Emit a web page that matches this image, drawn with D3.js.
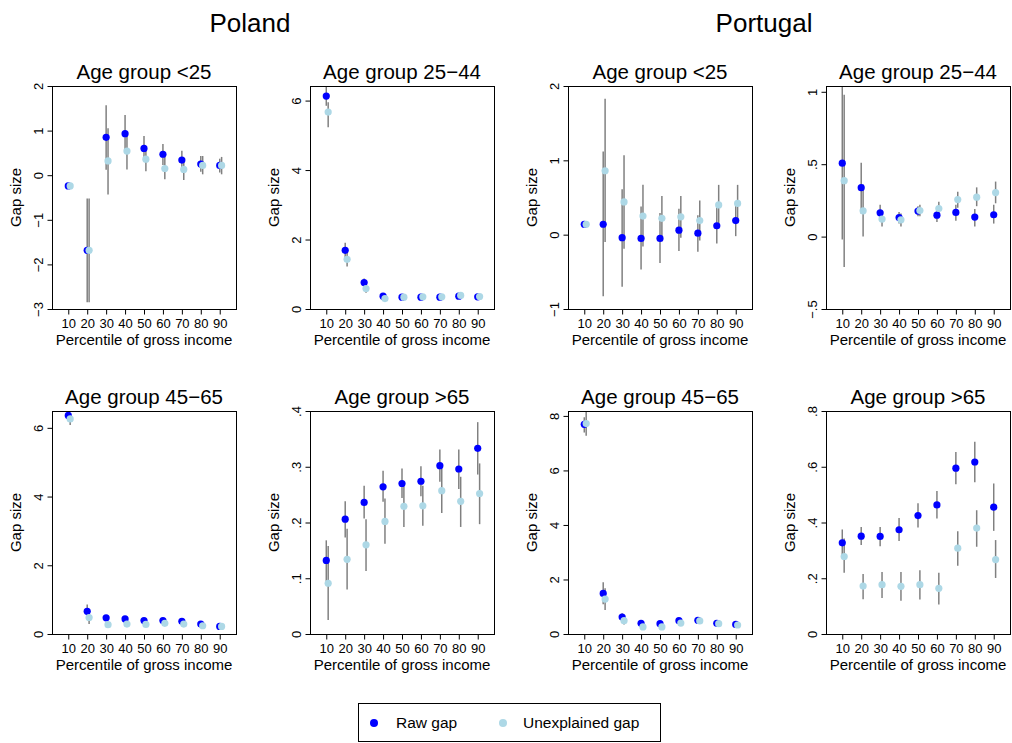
<!DOCTYPE html>
<html>
<head>
<meta charset="utf-8">
<script src="https://cdn.jsdelivr.net/npm/d3@7"></script>
<style>
  body { margin: 0; background: #fff; }
  text { font-family: "Liberation Sans", Arial, Helvetica, sans-serif; fill: #000; }
</style>
</head>
<body>
<div id="chart"></div>
<script>
// percentiles of gross income (unexplained gap is drawn one unit to the right)
const percentiles = [10, 20, 30, 40, 50, 60, 70, 80, 90]

// Poland, age < 25
const plU25Raw = [-0.24, -1.685, 0.85, 0.93, 0.6, 0.47, 0.34, 0.25, 0.22]
const plU25RawCI = [[-0.27, -0.21], [-2.85, -0.52], [0.12, 1.57], [0.53, 1.35], [0.34, 0.88], [0.23, 0.7], [0.13, 0.55], [0.08, 0.43], [0.06, 0.37]]
const plU25Unexp = [-0.24, -1.685, 0.32, 0.54, 0.36, 0.15, 0.13, 0.22, 0.22]
const plU25UnexpCI = [[-0.27, -0.21], [-2.85, -0.52], [-0.43, 1.05], [0.13, 0.95], [0.09, 0.62], [-0.09, 0.41], [-0.11, 0.34], [0.02, 0.43], [0.02, 0.41]]

// Poland, age 25-44
const pl2544Raw = [6.13, 1.69, 0.76, 0.37, 0.34, 0.34, 0.34, 0.37, 0.35]
const pl2544RawCI = [[5.85, 6.42], [1.45, 1.91], [0.64, 0.88], [0.3, 0.45], [0.3, 0.38], [0.3, 0.38], [0.3, 0.38], [0.33, 0.41], [0.31, 0.39]]
const pl2544Unexp = [5.67, 1.43, 0.59, 0.3, 0.34, 0.35, 0.35, 0.39, 0.36]
const pl2544UnexpCI = [[5.23, 5.95], [1.22, 1.65], [0.47, 0.72], [0.22, 0.37], [0.29, 0.39], [0.3, 0.4], [0.3, 0.4], [0.34, 0.44], [0.31, 0.41]]

// Portugal, age < 25
const ptU25Raw = [0.14, 0.14, -0.04, -0.05, -0.05, 0.06, 0.02, 0.12, 0.19]
const ptU25RawCI = [[0.12, 0.16], [-0.83, 1.12], [-0.7, 0.61], [-0.47, 0.38], [-0.38, 0.29], [-0.22, 0.35], [-0.23, 0.26], [-0.12, 0.38], [-0.02, 0.41]]
const ptU25Unexp = [0.14, 0.86, 0.44, 0.25, 0.22, 0.24, 0.19, 0.4, 0.42]
const ptU25UnexpCI = [[0.12, 0.16], [-0.1, 1.83], [-0.19, 1.07], [-0.16, 0.67], [-0.09, 0.52], [-0.04, 0.52], [-0.08, 0.46], [0.13, 0.67], [0.17, 0.67]]

// Portugal, age 25-44
const pt2544Raw = [0.507, 0.338, 0.164, 0.132, 0.176, 0.148, 0.167, 0.135, 0.151]
const pt2544RawCI = [[-0.02, 1.04], [0.16, 0.51], [0.11, 0.22], [0.09, 0.17], [0.14, 0.21], [0.1, 0.19], [0.11, 0.22], [0.07, 0.19], [0.09, 0.22]]
const pt2544Unexp = [0.386, 0.178, 0.121, 0.116, 0.18, 0.194, 0.256, 0.272, 0.304]
const pt2544UnexpCI = [[-0.21, 0.98], [0, 0.36], [0.07, 0.17], [0.07, 0.16], [0.14, 0.22], [0.15, 0.24], [0.2, 0.31], [0.21, 0.34], [0.23, 0.38]]

// Poland, age 45-65
const pl4565Raw = [6.36, 0.66, 0.47, 0.44, 0.39, 0.39, 0.37, 0.29, 0.22]
const pl4565RawCI = [[6.21, 6.49], [0.47, 0.86], [0.42, 0.52], [0.39, 0.49], [0.34, 0.44], [0.34, 0.44], [0.32, 0.42], [0.25, 0.33], [0.18, 0.26]]
const pl4565Unexp = [6.26, 0.48, 0.27, 0.29, 0.28, 0.31, 0.29, 0.24, 0.22]
const pl4565UnexpCI = [[6.08, 6.42], [0.29, 0.68], [0.22, 0.32], [0.24, 0.34], [0.23, 0.33], [0.26, 0.36], [0.24, 0.34], [0.2, 0.28], [0.18, 0.26]]

// Poland, age > 65
const plO65Raw = [0.132, 0.206, 0.236, 0.264, 0.27, 0.274, 0.302, 0.296, 0.333]
const plO65RawCI = [[0.094, 0.168], [0.173, 0.238], [0.207, 0.266], [0.237, 0.293], [0.244, 0.297], [0.247, 0.301], [0.273, 0.331], [0.26, 0.331], [0.286, 0.38]]
const plO65Unexp = [0.091, 0.134, 0.16, 0.202, 0.229, 0.23, 0.257, 0.238, 0.252]
const plO65UnexpCI = [[0.025, 0.158], [0.08, 0.189], [0.113, 0.206], [0.162, 0.243], [0.192, 0.265], [0.194, 0.266], [0.217, 0.297], [0.192, 0.282], [0.197, 0.306]]

// Portugal, age 45-65
const pt4565Raw = [7.69, 1.49, 0.62, 0.39, 0.38, 0.49, 0.5, 0.39, 0.35]
const pt4565RawCI = [[7.39, 7.95], [1.09, 1.9], [0.49, 0.76], [0.3, 0.48], [0.29, 0.47], [0.4, 0.58], [0.42, 0.58], [0.32, 0.46], [0.28, 0.42]]
const pt4565Unexp = [7.72, 1.28, 0.49, 0.26, 0.26, 0.4, 0.48, 0.38, 0.33]
const pt4565UnexpCI = [[7.27, 8.18], [0.88, 1.68], [0.35, 0.61], [0.16, 0.36], [0.16, 0.36], [0.31, 0.49], [0.4, 0.56], [0.31, 0.45], [0.26, 0.4]]

// Portugal, age > 65
const ptO65Raw = [0.327, 0.351, 0.35, 0.374, 0.425, 0.463, 0.595, 0.617, 0.455]
const ptO65RawCI = [[0.279, 0.375], [0.319, 0.384], [0.315, 0.384], [0.334, 0.416], [0.382, 0.469], [0.414, 0.513], [0.537, 0.653], [0.544, 0.69], [0.37, 0.54]]
const ptO65Unexp = [0.278, 0.172, 0.177, 0.171, 0.177, 0.164, 0.308, 0.38, 0.267]
const ptO65UnexpCI = [[0.22, 0.343], [0.125, 0.215], [0.129, 0.222], [0.119, 0.222], [0.124, 0.229], [0.106, 0.22], [0.245, 0.369], [0.313, 0.444], [0.201, 0.337]]

// y axis ticks per panel
const ticksU25PL = [-3, -2, -1, 0, 1, 2]
const ticks0to6 = [0, 2, 4, 6]
const ticksU25PT = [-1, 0, 1, 2]
const ticks2544PT = [-0.5, 0, 0.5, 1]
const ticksO65PL = [0, 0.1, 0.2, 0.3, 0.4]
const ticks0to8 = [0, 2, 4, 6, 8]
const ticksO65PT = [0, 0.2, 0.4, 0.6, 0.8]

const panels = [
  { title: 'Age group <25', raw: plU25Raw, rawCI: plU25RawCI, unexp: plU25Unexp, unexpCI: plU25UnexpCI, ymin: -3, ymax: 2, ticks: ticksU25PL },
  { title: 'Age group 25\u221244', raw: pl2544Raw, rawCI: pl2544RawCI, unexp: pl2544Unexp, unexpCI: pl2544UnexpCI, ymin: 0, ymax: 6.42, ticks: ticks0to6 },
  { title: 'Age group <25', raw: ptU25Raw, rawCI: ptU25RawCI, unexp: ptU25Unexp, unexpCI: ptU25UnexpCI, ymin: -1, ymax: 2, ticks: ticksU25PT },
  { title: 'Age group 25\u221244', raw: pt2544Raw, rawCI: pt2544RawCI, unexp: pt2544Unexp, unexpCI: pt2544UnexpCI, ymin: -0.5, ymax: 1.04, ticks: ticks2544PT },
  { title: 'Age group 45\u221265', raw: pl4565Raw, rawCI: pl4565RawCI, unexp: pl4565Unexp, unexpCI: pl4565UnexpCI, ymin: 0, ymax: 6.49, ticks: ticks0to6 },
  { title: 'Age group >65', raw: plO65Raw, rawCI: plO65RawCI, unexp: plO65Unexp, unexpCI: plO65UnexpCI, ymin: 0, ymax: 0.4, ticks: ticksO65PL },
  { title: 'Age group 45\u221265', raw: pt4565Raw, rawCI: pt4565RawCI, unexp: pt4565Unexp, unexpCI: pt4565UnexpCI, ymin: 0, ymax: 8.18, ticks: ticks0to8 },
  { title: 'Age group >65', raw: ptO65Raw, rawCI: ptO65RawCI, unexp: ptO65Unexp, unexpCI: ptO65UnexpCI, ymin: 0, ymax: 0.8, ticks: ticksO65PT }
]

const width = 1012
const height = 743
const boxW = 184
const boxH = 223
const rawColor = '#0000ff'
const unexpColor = '#add8e6'
const ciColor = '#808080'

const svg = d3
  .select('#chart')
  .append('svg')
  .attr('width', width)
  .attr('height', height)

// country headers
svg.append('text').attr('x', 250).attr('y', 32).attr('text-anchor', 'middle')
  .style('font-size', '26px').text('Poland')
svg.append('text').attr('x', 764).attr('y', 32).attr('text-anchor', 'middle')
  .style('font-size', '26px').text('Portugal')

// R style tick label: drop leading zero, real minus sign
const fmt = (v) => {
  if (v === 0) return '0'
  const s = String(Math.abs(v)).replace(/^0\./, '.')
  return (v < 0 ? '\u2212' : '') + s
}

panels.forEach((p, i) => {
  const col = i % 4
  const row = Math.floor(i / 4)
  const left = 52 + col * 258
  const top = 86 + row * 325

  const x = d3.scaleLinear().domain([1.4, 98.6]).range([left, left + boxW])
  const y = d3.scaleLinear().domain([p.ymin, p.ymax]).range([top + boxH, top])

  const g = svg.append('g')

  // confidence intervals
  g.selectAll('line.raw-ci')
    .data(percentiles)
    .enter()
    .append('line')
    .attr('x1', (d) => x(d))
    .attr('x2', (d) => x(d))
    .attr('y1', (d, j) => y(p.rawCI[j][0]))
    .attr('y2', (d, j) => y(p.rawCI[j][1]))
    .attr('stroke', ciColor)
    .attr('stroke-width', 1.5)

  g.selectAll('line.unexp-ci')
    .data(percentiles)
    .enter()
    .append('line')
    .attr('x1', (d) => x(d + 1))
    .attr('x2', (d) => x(d + 1))
    .attr('y1', (d, j) => y(p.unexpCI[j][0]))
    .attr('y2', (d, j) => y(p.unexpCI[j][1]))
    .attr('stroke', ciColor)
    .attr('stroke-width', 1.5)

  g.selectAll('circle.raw')
    .data(percentiles)
    .enter()
    .append('circle')
    .attr('cx', (d) => x(d))
    .attr('cy', (d, j) => y(p.raw[j]))
    .attr('r', 3.6)
    .attr('fill', rawColor)

  g.selectAll('circle.unexp')
    .data(percentiles)
    .enter()
    .append('circle')
    .attr('cx', (d) => x(d + 1))
    .attr('cy', (d, j) => y(p.unexp[j]))
    .attr('r', 3.6)
    .attr('fill', unexpColor)

  // box
  g.append('rect')
    .attr('x', left + 0.5)
    .attr('y', top + 0.5)
    .attr('width', boxW)
    .attr('height', boxH)
    .attr('fill', 'none')
    .attr('stroke', '#000')
    .attr('stroke-width', 1)

  const xAxis = d3.axisBottom(x).tickValues(percentiles).tickSize(5).tickSizeOuter(0)
  const gx = g.append('g')
    .attr('transform', 'translate(0,' + (top + boxH + 0.5) + ')')
    .call(xAxis)
  gx.select('.domain').remove()
  gx.selectAll('text').attr('y', 18).attr('dy', null)
    .style('font-size', '13px').attr('fill', '#000')

  const yAxis = d3.axisLeft(y).tickValues(p.ticks).tickFormat(fmt).tickSize(5).tickSizeOuter(0)
  const gy = g.append('g')
    .attr('transform', 'translate(' + (left + 0.5) + ',0)')
    .call(yAxis)
  gy.select('.domain').remove()
  gy.selectAll('text')
    .attr('x', 0).attr('dy', null)
    .attr('text-anchor', 'middle')
    .attr('transform', 'translate(-10,0) rotate(-90)')
    .style('font-size', '13px').attr('fill', '#000')
  g.selectAll('.tick line').attr('stroke', '#000')
  g.selectAll('.tick text').style('font-family', '"Liberation Sans", Arial, sans-serif')

  // titles
  g.append('text')
    .attr('x', left + boxW / 2)
    .attr('y', top - 7)
    .attr('text-anchor', 'middle')
    .style('font-size', '20.5px')
    .text(p.title)

  g.append('text')
    .attr('x', left + boxW / 2)
    .attr('y', top + boxH + 36)
    .attr('text-anchor', 'middle')
    .style('font-size', '15px')
    .text('Percentile of gross income')

  g.append('text')
    .attr('transform', 'translate(' + (left - 31) + ',' + (top + boxH / 2) + ') rotate(-90)')
    .attr('text-anchor', 'middle')
    .style('font-size', '15px')
    .text('Gap size')
})

// legend
const legend = svg.append('g')
legend.append('rect')
  .attr('x', 358.5).attr('y', 703.5)
  .attr('width', 302).attr('height', 38)
  .attr('fill', 'none').attr('stroke', '#000')
legend.append('circle').attr('cx', 374).attr('cy', 723).attr('r', 4).attr('fill', rawColor)
legend.append('text').attr('x', 396).attr('y', 728).style('font-size', '15.5px').text('Raw gap')
legend.append('circle').attr('cx', 503).attr('cy', 723).attr('r', 4).attr('fill', unexpColor)
legend.append('text').attr('x', 523).attr('y', 728).style('font-size', '15.5px').text('Unexplained gap')
</script>
</body>
</html>
